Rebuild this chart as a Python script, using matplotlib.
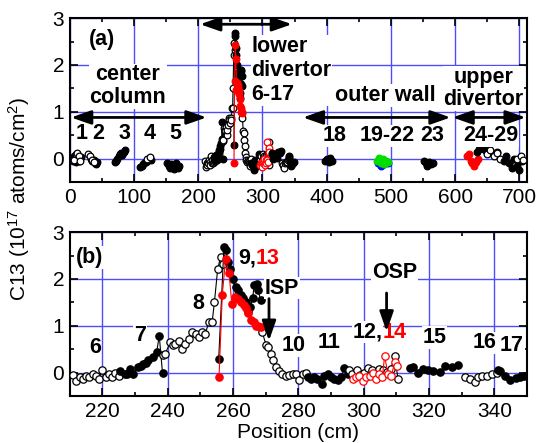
import numpy as np
import matplotlib.pyplot as plt
from matplotlib.ticker import MultipleLocator

plt.rcParams['font.family'] = ['Liberation Sans', 'DejaVu Sans']
plt.rcParams['font.size'] = 15
plt.rcParams['mathtext.default'] = 'regular'

# lower divertor tiles 6-17 (used in both panels)
s6_x = [211, 212, 213, 214, 215, 216, 217, 218, 219, 220, 221, 222, 223, 224, 225]
s6_y = [-0.05, -0.18, -0.1, -0.14, -0.08, -0.1, -0.02, -0.08, -0.13, 0.06, -0.1, -0.03, -0.1, 0.0, -0.08]
s7_x = [225.3, 226.8, 227.5, 228.4, 229.4, 230.9, 231.7, 232.5, 233.3, 234, 235.5, 236.6, 237.4, 238.4]
s7_y = [0.04, -0.04, -0.02, 0.08, -0.03, 0.11, 0.15, 0.19, 0.2, 0.26, 0.33, 0.43, 0.79, -0.01]
s8_x = [238.6, 239.2, 240.8, 241.5, 242.3, 243.3, 244.4, 245.4, 246.4, 247.4, 248.5, 249.5, 250.5,
        251.5, 252.6, 253.6, 254.3, 255.3, 256.2, 256.9]
s8_y = [0.38, 0.4, 0.65, 0.58, 0.61, 0.68, 0.51, 0.61, 0.72, 0.86, 0.83, 0.76, 0.86,
        0.83, 1.08, 1.08, 1.51, 2.22, 2.47, 2.33]
s9_x = [255.6, 257.2, 257.8, 258.5, 259.2, 260.1, 260.8, 261.5, 262.4, 263.1, 263.9, 264.6, 265.3,
        266, 266.5, 267.2, 267.7, 268.4]
s9_y = [0.29, 2.68, 2.61, 2.36, 2.22, 2.0, 1.83, 1.76, 1.65, 1.6, 1.51, 1.3, 1.4,
        1.6, 1.87, 1.9, 1.76, 1.55]
s13_x = [255.7, 256.7, 257.7, 258.8, 259.6, 260.5, 261.6, 262.4, 263.2, 263.9, 264.6, 265.5,
         266.3, 267, 267.7, 268.6]
s13_y = [-0.1, 1.66, 2.42, 2.12, 1.47, 1.62, 1.58, 1.5, 1.45, 1.38, 1.27, 1.12,
         1.08, 1.0, 1.0, 0.97]
s10_x = [268.9, 270.1, 270.6, 271.5, 272.3, 273.1, 274.1, 275.1, 276.2, 277.2, 278.3, 279.3,
         280.2, 281.3, 282.3]
s10_y = [0.87, 0.59, 0.55, 0.4, 0.26, 0.13, 0.04, -0.03, -0.08, -0.06, -0.03, -0.04,
         -0.16, -0.03, 0.0]
s11_x = [282.8, 283.8, 284.8, 285.8, 287.2, 287.9, 289, 290, 291, 292, 293, 294.1, 295.1]
s11_y = [-0.1, -0.13, -0.1, -0.13, -0.24, -0.07, -0.03, -0.1, -0.13, -0.15, -0.1, 0.1, -0.03]
s12_x = [295.5, 296.5, 297.8, 299, 300.2, 301.3, 302.5, 303.6, 304.8, 306, 307.2, 308.3, 309.5, 310.5]
s12_y = [0.05, -0.02, 0.05, -0.05, 0.0, 0.1, 0.05, -0.03, 0.08, 0.05, 0.02, 0.08, 0.36, -0.14]
s14_x = [296.6, 297.6, 298.7, 299.7, 300.7, 301.8, 302.8, 303.8, 304.8, 305.7, 306.4, 307.4,
         308.4, 309.5, 310.3]
s14_y = [-0.13, -0.1, -0.07, -0.17, -0.1, -0.07, 0.0, -0.13, -0.03, -0.1, 0.36, -0.03,
         -0.08, 0.22, 0.15]
s15_x = [314.3, 315.1, 316.7, 318.2, 319.7, 321.2, 323.3, 324.9, 327, 329]
s15_y = [0.1, 0.13, -0.01, 0.08, 0.06, 0.04, 0.01, 0.15, 0.13, 0.16]
s16_x = [331, 332.6, 334.1, 335.1, 336.2, 337.7, 339.2, 340.7]
s16_y = [-0.1, -0.13, -0.2, -0.1, -0.07, -0.07, -0.03, -0.01]
s17_x = [341.1, 341.8, 343.3, 344.9, 346.5, 348, 349]
s17_y = [0.06, 0.03, -0.08, -0.15, -0.12, -0.1, -0.07]

# other tiles, panel (a) only
g1f_x = [3, 5, 7, 9, 11, 13, 15, 17]
g1f_y = [0.0, -0.05, 0.05, -0.08, 0.08, 0.02, -0.06, 0.03]
g1o_x = [6, 9, 12, 14, 16]
g1o_y = [-0.02, 0.1, 0.12, 0.05, -0.05]
g2f_x = [33, 35, 37, 39, 41, 43]
g2f_y = [0.0, -0.05, -0.02, -0.1, -0.12, -0.08]
g2o_x = [29, 31, 34, 38]
g2o_y = [0.1, 0.05, -0.02, -0.08]
g3f_x = [70, 72, 74, 76, 78, 80, 82, 84, 86]
g3f_y = [-0.08, -0.05, 0.0, 0.05, 0.1, 0.12, 0.08, 0.15, 0.18]
g4f_x = [110, 112, 114, 116, 118, 120, 122, 124, 126]
g4f_y = [-0.18, -0.15, -0.12, -0.1, -0.08, -0.05, -0.02, 0.0, -0.03]
g4o_x = [121, 125]
g4o_y = [0.0, 0.03]
g5f_x = [152, 154, 156, 158, 160, 162, 164, 166, 168, 170]
g5f_y = [-0.1, -0.15, -0.2, -0.12, -0.18, -0.22, -0.15, -0.1, -0.2, -0.15]
g18_x = [397, 400, 403, 406, 409]
g18_y = [-0.05, 0.0, -0.08, 0.02, -0.05]
g19b_x = [480, 485, 490, 495]
g19b_y = [-0.1, -0.15, -0.12, -0.1]
g19g_x = [478, 481, 484, 487, 490, 493, 496]
g19g_y = [-0.05, 0.02, -0.1, 0.0, -0.12, -0.05, -0.08]
g23_x = [551, 554, 557, 560, 563, 566]
g23_y = [-0.05, -0.1, -0.15, -0.08, -0.12, -0.1]
g24r_x = [618, 621, 624, 627, 630, 633, 636]
g24r_y = [0.05, 0.1, -0.05, -0.1, -0.15, -0.08, 0.0]
g24f_x = [634, 638, 642, 646, 650, 654, 658, 662, 666]
g24f_y = [0.15, 0.2, 0.22, 0.18, 0.2, 0.15, 0.12, 0.1, 0.15]
g24o_x = [650, 655, 660, 665, 670]
g24o_y = [0.1, 0.18, 0.05, 0.12, 0.0]
g29f_x = [676, 680, 684, 688, 692, 696, 700, 704]
g29f_y = [-0.05, 0.05, -0.1, -0.2, 0.0, -0.15, -0.25, -0.05]
g29o_x = [696, 702, 706]
g29o_y = [0.0, 0.05, -0.02]

STY = {
    'open': dict(color='k', mfc='white', mec='k'),
    'fill': dict(color='k', mfc='k', mec='k'),
    'red': dict(color='red', mfc='red', mec='red'),
    'redopen': dict(color='red', mfc='white', mec='red'),
    'blue': dict(color='blue', mfc='blue', mec='blue'),
    'green': dict(color='#00dd00', mfc='#00dd00', mec='#00dd00'),
}

def series(ax, x, y, kind, ms):
    ax.plot(x, y, 'o-', lw=0.8, ms=ms, mew=0.9, zorder=3, **STY[kind])

lower = [(s6_x, s6_y, 'open'), (s7_x, s7_y, 'fill'), (s8_x, s8_y, 'open'),
         (s9_x, s9_y, 'fill'), (s10_x, s10_y, 'open'), (s13_x, s13_y, 'red'),
         (s11_x, s11_y, 'fill'), (s12_x, s12_y, 'open'), (s14_x, s14_y, 'redopen'),
         (s15_x, s15_y, 'fill'), (s16_x, s16_y, 'open'), (s17_x, s17_y, 'fill')]
others = [(g1f_x, g1f_y, 'fill'), (g1o_x, g1o_y, 'open'), (g2f_x, g2f_y, 'fill'),
          (g2o_x, g2o_y, 'open'), (g3f_x, g3f_y, 'fill'), (g4f_x, g4f_y, 'fill'),
          (g4o_x, g4o_y, 'open'), (g5f_x, g5f_y, 'fill'), (g18_x, g18_y, 'fill'),
          (g19b_x, g19b_y, 'blue'), (g19g_x, g19g_y, 'green'), (g23_x, g23_y, 'fill'),
          (g24r_x, g24r_y, 'red'), (g24f_x, g24f_y, 'fill'), (g24o_x, g24o_y, 'open'),
          (g29f_x, g29f_y, 'fill'), (g29o_x, g29o_y, 'open')]

fig = plt.figure(figsize=(5.45, 4.43), dpi=100)
axa = fig.add_axes([0.128, 0.589, 0.839, 0.370])
axb = fig.add_axes([0.128, 0.106, 0.839, 0.370])

def style(ax, xmaj, xmin):
    ax.xaxis.set_major_locator(MultipleLocator(xmaj))
    ax.xaxis.set_minor_locator(MultipleLocator(xmin))
    ax.yaxis.set_major_locator(MultipleLocator(1))
    ax.yaxis.set_minor_locator(MultipleLocator(0.5))
    ax.set_ylim(-0.5, 3)
    ax.tick_params(which='both', direction='in', top=True, right=True, width=1.2, labelsize=15)
    ax.tick_params(which='major', length=6, pad=4)
    ax.tick_params(which='minor', length=3)
    ax.grid(True, which='major', color=(0.3, 0.3, 1.0), lw=1.0)
    ax.set_axisbelow(True)
    for sp in ax.spines.values():
        sp.set_linewidth(1.5)

style(axa, 100, 50)
axa.set_xlim(0, 712)
style(axb, 20, 10)
axb.set_xlim(210, 350)

for x, y, k in lower + others:
    series(axa, x, y, k, 4.8)
for x, y, k in lower:
    series(axb, x, y, k, 5.3)

FS = 15.5
box = dict(facecolor='white', edgecolor='none', pad=0.5)
bold = dict(fontweight='bold', fontsize=FS, bbox=box, zorder=5)
HEAD = ',head_length=0.8,head_width=0.28'

def darrow(ax, x0, x1, y):
    ax.annotate('', xy=(x1, y), xytext=(x0, y), zorder=6,
                arrowprops=dict(arrowstyle='<|-|>' + HEAD,
                                color='k', lw=2, shrinkA=0, shrinkB=0))

# panel (a) labels
axa.text(30, 2.55, '(a)', ha='left', va='center', **bold)
darrow(axa, 203, 346, 2.87)
axa.text(283, 1.88, 'lower\ndivertor\n6-17', ha='left', va='center', linespacing=1.2, **bold)
axa.text(90, 1.55, 'center\ncolumn', ha='center', va='center', linespacing=1.1, **bold)
darrow(axa, 2, 213, 0.88)
for lab, xx in zip(['1', '2', '3', '4', '5'], [18, 44, 85, 125, 165]):
    axa.text(xx, 0.53, lab, ha='center', va='center', **bold)
darrow(axa, 363, 593, 0.88)
axa.text(491, 1.35, 'outer wall', ha='center', va='center', **bold)
darrow(axa, 596, 710, 0.88)
axa.text(644, 1.5, 'upper\ndivertor', ha='center', va='center', linespacing=1.1, **bold)
for lab, xx in zip(['18', '19-22', '23', '24-29'], [413, 494, 564, 655]):
    axa.text(xx, 0.49, lab, ha='center', va='center', **bold)

# panel (b) labels
axb.text(212, 2.46, '(b)', ha='left', va='center', **bold)
for lab, xx, yy in [('6', 217.7, 0.54), ('7', 231.5, 0.79), ('8', 249.5, 1.47),
                    ('10', 278.6, 0.58), ('11', 289.4, 0.64), ('15', 321.7, 0.75),
                    ('16', 337, 0.64), ('17', 345.4, 0.58)]:
    axb.text(xx, yy, lab, ha='center', va='center', **bold)
t9 = axb.text(261.5, 2.44, '9,', ha='left', va='center', **bold)
axb.annotate('13', xy=(1, 0.5), xycoords=t9, ha='left', va='center', color='red',
             fontweight='bold', fontsize=FS, zorder=5)
t12 = axb.text(296.6, 0.86, '12,', ha='left', va='center', **bold)
axb.annotate('14', xy=(1, 0.5), xycoords=t12, ha='left', va='center', color='red',
             fontweight='bold', fontsize=FS, zorder=5)
axb.text(275, 1.8, 'ISP', ha='center', va='center', **bold)
axb.text(309.4, 2.14, 'OSP', ha='center', va='center', **bold)
for xx, y0, y1 in [(271, 1.58, 0.68), (307, 1.7, 0.88)]:
    axb.annotate('', xy=(xx, y1), xytext=(xx, y0), zorder=6,
                 arrowprops=dict(arrowstyle='-|>' + HEAD,
                                 color='k', lw=2, shrinkA=0, shrinkB=0))

axb.set_xlabel('Position (cm)', fontsize=15, labelpad=2)
fig.text(0.035, 0.55, 'C13 (10$^{17}$ atoms/cm$^2$)', rotation=90, ha='center', va='center',
         fontsize=15)

fig.savefig('out.png', dpi=100)
